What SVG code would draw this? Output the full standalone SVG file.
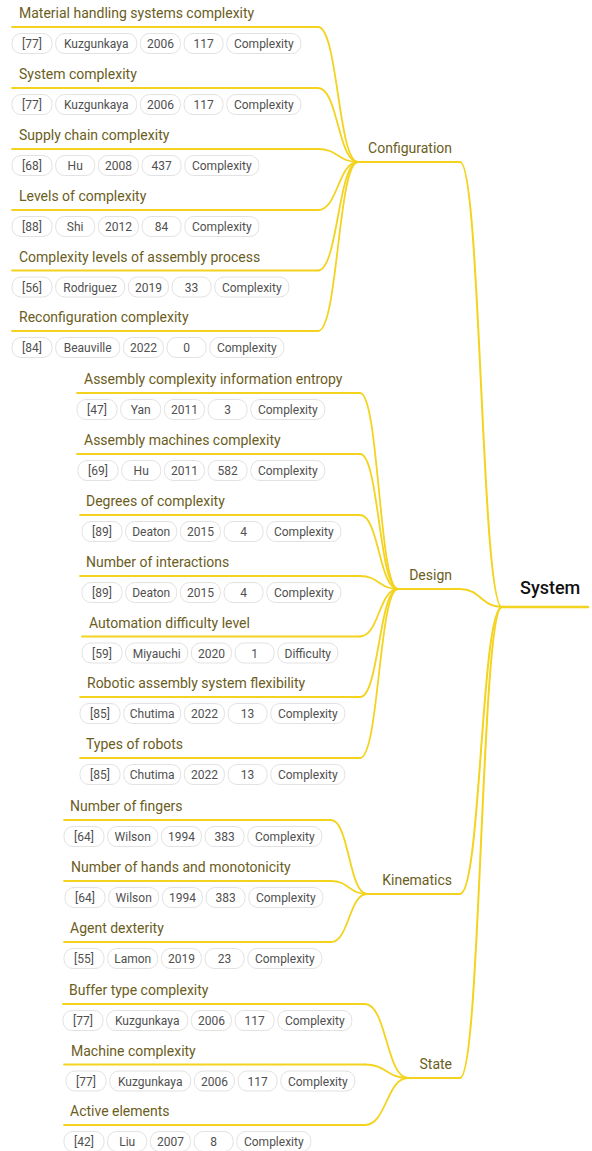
<svg xmlns="http://www.w3.org/2000/svg" width="592" height="1151" viewBox="0 0 592 1151">
  <style>
    .bg { fill: #ffffff; }
    .link { fill: none; stroke: #f4d31f; stroke-width: 1.8; stroke-linecap: round; }
    .link.l1 { stroke-width: 2; }
    .uline { fill: none; stroke: #f4d31f; stroke-width: 1.8; stroke-linecap: round; }
    .uline.l1 { stroke-width: 2; }
    .uline.root { stroke-width: 2.5; }
    .title { font-family: Roboto, "Liberation Sans", sans-serif; font-size: 14px; fill: #6b5d1c; }
    .group { text-anchor: end; }
    .rootlabel { font-family: Roboto, "Liberation Sans", sans-serif; font-size: 18px; font-weight: 500; fill: #111111; }
    .tag rect { fill: #ffffff; stroke: #e2e2e2; stroke-width: 1; }
    .tag text { font-family: Roboto, "Liberation Sans", sans-serif; font-size: 12px; fill: #505050; text-anchor: middle; }
  </style>
  <rect class="bg" x="0" y="0" width="592" height="1151"/>

  <!-- connectors: bezier links from each node's right end to its parent junction -->
  <g id="connectors">
    <path class="link l1" d="M460 162 C481 162 481 607 502 607"/>
    <path class="link l1" d="M460 589 C481 589 481 607 502 607"/>
    <path class="link l1" d="M460 894 C481 894 481 607 502 607"/>
    <path class="link l1" d="M460 1078 C481 1078 481 607 502 607"/>

    <path class="link" d="M318 27 C338 27 338 162 358 162"/>
    <path class="link" d="M318 88 C338 88 338 162 358 162"/>
    <path class="link" d="M318 149 C338 149 338 162 358 162"/>
    <path class="link" d="M318 210 C338 210 338 162 358 162"/>
    <path class="link" d="M318 270.5 C338 270.5 338 162 358 162"/>
    <path class="link" d="M318 331 C338 331 338 162 358 162"/>

    <path class="link" d="M360 393 C379 393 379 589 398 589"/>
    <path class="link" d="M360 454 C379 454 379 589 398 589"/>
    <path class="link" d="M360 515 C379 515 379 589 398 589"/>
    <path class="link" d="M360 576 C379 576 379 589 398 589"/>
    <path class="link" d="M360 636.5 C379 636.5 379 589 398 589"/>
    <path class="link" d="M360 697 C379 697 379 589 398 589"/>
    <path class="link" d="M360 758 C379 758 379 589 398 589"/>

    <path class="link" d="M331 820 C349 820 349 894 367 894"/>
    <path class="link" d="M331 881 C349 881 349 894 367 894"/>
    <path class="link" d="M331 942 C349 942 349 894 367 894"/>

    <path class="link" d="M365 1004 C386.5 1004 386.5 1078 408 1078"/>
    <path class="link" d="M365 1064.5 C386.5 1064.5 386.5 1078 408 1078"/>
    <path class="link" d="M365 1125 C386.5 1125 386.5 1078 408 1078"/>
  </g>

  <!-- root -->
  <g id="node-system">
    <path class="uline root" d="M502 607 H588"/>
    <text class="rootlabel" x="520" y="594">System</text>
  </g>

  <!-- first level -->
  <g id="node-configuration">
    <path class="uline l1" d="M358 162 H460"/>
    <text class="title group" x="452" y="153">Configuration</text>
  </g>
  <g id="node-design">
    <path class="uline l1" d="M398 589 H460"/>
    <text class="title group" x="452" y="580">Design</text>
  </g>
  <g id="node-kinematics">
    <path class="uline l1" d="M367 894 H460"/>
    <text class="title group" x="452" y="885">Kinematics</text>
  </g>
  <g id="node-state">
    <path class="uline l1" d="M408 1078 H460"/>
    <text class="title group" x="452" y="1069">State</text>
  </g>

  <!-- Configuration leaves -->
  <g id="node-c1">
    <path class="uline" d="M12 27 H318"/>
    <text class="title" x="19" y="18">Material handling systems complexity</text>
    <g class="tag"><rect x="12" y="33.5" width="40" height="20" rx="9"/><text x="32" y="48">[77]</text></g>
    <g class="tag"><rect x="55.7" y="33.5" width="81" height="20" rx="9"/><text x="96.2" y="48">Kuzgunkaya</text></g>
    <g class="tag"><rect x="140.4" y="33.5" width="40" height="20" rx="9"/><text x="160.4" y="48">2006</text></g>
    <g class="tag"><rect x="184.1" y="33.5" width="39" height="20" rx="9"/><text x="203.6" y="48">117</text></g>
    <g class="tag"><rect x="226.8" y="33.5" width="74" height="20" rx="9"/><text x="263.8" y="48">Complexity</text></g>
  </g>
  <g id="node-c2">
    <path class="uline" d="M12 88 H318"/>
    <text class="title" x="19" y="79">System complexity</text>
    <g class="tag"><rect x="12" y="94.5" width="40" height="20" rx="9"/><text x="32" y="109">[77]</text></g>
    <g class="tag"><rect x="55.7" y="94.5" width="81" height="20" rx="9"/><text x="96.2" y="109">Kuzgunkaya</text></g>
    <g class="tag"><rect x="140.4" y="94.5" width="40" height="20" rx="9"/><text x="160.4" y="109">2006</text></g>
    <g class="tag"><rect x="184.1" y="94.5" width="39" height="20" rx="9"/><text x="203.6" y="109">117</text></g>
    <g class="tag"><rect x="226.8" y="94.5" width="74" height="20" rx="9"/><text x="263.8" y="109">Complexity</text></g>
  </g>
  <g id="node-c3">
    <path class="uline" d="M12 149 H318"/>
    <text class="title" x="19" y="140">Supply chain complexity</text>
    <g class="tag"><rect x="12" y="155.5" width="40" height="20" rx="9"/><text x="32" y="170">[68]</text></g>
    <g class="tag"><rect x="55.7" y="155.5" width="39" height="20" rx="9"/><text x="75.2" y="170">Hu</text></g>
    <g class="tag"><rect x="98.4" y="155.5" width="40" height="20" rx="9"/><text x="118.4" y="170">2008</text></g>
    <g class="tag"><rect x="142.1" y="155.5" width="39" height="20" rx="9"/><text x="161.6" y="170">437</text></g>
    <g class="tag"><rect x="184.8" y="155.5" width="74" height="20" rx="9"/><text x="221.8" y="170">Complexity</text></g>
  </g>
  <g id="node-c4">
    <path class="uline" d="M12 210 H318"/>
    <text class="title" x="19" y="201">Levels of complexity</text>
    <g class="tag"><rect x="12" y="216.5" width="40" height="20" rx="9"/><text x="32" y="231">[88]</text></g>
    <g class="tag"><rect x="55.7" y="216.5" width="39" height="20" rx="9"/><text x="75.2" y="231">Shi</text></g>
    <g class="tag"><rect x="98.4" y="216.5" width="40" height="20" rx="9"/><text x="118.4" y="231">2012</text></g>
    <g class="tag"><rect x="142.1" y="216.5" width="39" height="20" rx="9"/><text x="161.6" y="231">84</text></g>
    <g class="tag"><rect x="184.8" y="216.5" width="74" height="20" rx="9"/><text x="221.8" y="231">Complexity</text></g>
  </g>
  <g id="node-c5">
    <path class="uline" d="M12 270.5 H318"/>
    <text class="title" x="19" y="261.5">Complexity levels of assembly process</text>
    <g class="tag"><rect x="12" y="277" width="40" height="20" rx="9"/><text x="32" y="291.5">[56]</text></g>
    <g class="tag"><rect x="55.7" y="277" width="69" height="20" rx="9"/><text x="90.2" y="291.5">Rodriguez</text></g>
    <g class="tag"><rect x="128.4" y="277" width="40" height="20" rx="9"/><text x="148.4" y="291.5">2019</text></g>
    <g class="tag"><rect x="172.1" y="277" width="39" height="20" rx="9"/><text x="191.6" y="291.5">33</text></g>
    <g class="tag"><rect x="214.8" y="277" width="74" height="20" rx="9"/><text x="251.8" y="291.5">Complexity</text></g>
  </g>
  <g id="node-c6">
    <path class="uline" d="M12 331 H318"/>
    <text class="title" x="19" y="322">Reconfiguration complexity</text>
    <g class="tag"><rect x="12" y="337.5" width="40" height="20" rx="9"/><text x="32" y="352">[84]</text></g>
    <g class="tag"><rect x="55.7" y="337.5" width="64" height="20" rx="9"/><text x="87.7" y="352">Beauville</text></g>
    <g class="tag"><rect x="123.4" y="337.5" width="40" height="20" rx="9"/><text x="143.4" y="352">2022</text></g>
    <g class="tag"><rect x="167.1" y="337.5" width="39" height="20" rx="9"/><text x="186.6" y="352">0</text></g>
    <g class="tag"><rect x="209.8" y="337.5" width="74" height="20" rx="9"/><text x="246.8" y="352">Complexity</text></g>
  </g>

  <!-- Design leaves -->
  <g id="node-d1">
    <path class="uline" d="M77 393 H360"/>
    <text class="title" x="84" y="384">Assembly complexity information entropy</text>
    <g class="tag"><rect x="77" y="399.5" width="40" height="20" rx="9"/><text x="97" y="414">[47]</text></g>
    <g class="tag"><rect x="120.7" y="399.5" width="40" height="20" rx="9"/><text x="140.7" y="414">Yan</text></g>
    <g class="tag"><rect x="164.4" y="399.5" width="40" height="20" rx="9"/><text x="184.4" y="414">2011</text></g>
    <g class="tag"><rect x="208.1" y="399.5" width="39" height="20" rx="9"/><text x="227.6" y="414">3</text></g>
    <g class="tag"><rect x="250.8" y="399.5" width="74" height="20" rx="9"/><text x="287.8" y="414">Complexity</text></g>
  </g>
  <g id="node-d2">
    <path class="uline" d="M77 454 H360"/>
    <text class="title" x="84" y="445">Assembly machines complexity</text>
    <g class="tag"><rect x="78" y="460.5" width="40" height="20" rx="9"/><text x="98" y="475">[69]</text></g>
    <g class="tag"><rect x="121.7" y="460.5" width="39" height="20" rx="9"/><text x="141.2" y="475">Hu</text></g>
    <g class="tag"><rect x="164.4" y="460.5" width="40" height="20" rx="9"/><text x="184.4" y="475">2011</text></g>
    <g class="tag"><rect x="208.1" y="460.5" width="39" height="20" rx="9"/><text x="227.6" y="475">582</text></g>
    <g class="tag"><rect x="250.8" y="460.5" width="74" height="20" rx="9"/><text x="287.8" y="475">Complexity</text></g>
  </g>
  <g id="node-d3">
    <path class="uline" d="M80 515 H360"/>
    <text class="title" x="86" y="506">Degrees of complexity</text>
    <g class="tag"><rect x="82" y="521.5" width="40" height="20" rx="9"/><text x="102" y="536">[89]</text></g>
    <g class="tag"><rect x="125.7" y="521.5" width="51" height="20" rx="9"/><text x="151.2" y="536">Deaton</text></g>
    <g class="tag"><rect x="180.4" y="521.5" width="40" height="20" rx="9"/><text x="200.4" y="536">2015</text></g>
    <g class="tag"><rect x="224.1" y="521.5" width="39" height="20" rx="9"/><text x="243.6" y="536">4</text></g>
    <g class="tag"><rect x="266.8" y="521.5" width="74" height="20" rx="9"/><text x="303.8" y="536">Complexity</text></g>
  </g>
  <g id="node-d4">
    <path class="uline" d="M80 576 H360"/>
    <text class="title" x="86" y="567">Number of interactions</text>
    <g class="tag"><rect x="82" y="582.5" width="40" height="20" rx="9"/><text x="102" y="597">[89]</text></g>
    <g class="tag"><rect x="125.7" y="582.5" width="51" height="20" rx="9"/><text x="151.2" y="597">Deaton</text></g>
    <g class="tag"><rect x="180.4" y="582.5" width="40" height="20" rx="9"/><text x="200.4" y="597">2015</text></g>
    <g class="tag"><rect x="224.1" y="582.5" width="39" height="20" rx="9"/><text x="243.6" y="597">4</text></g>
    <g class="tag"><rect x="266.8" y="582.5" width="74" height="20" rx="9"/><text x="303.8" y="597">Complexity</text></g>
  </g>
  <g id="node-d5">
    <path class="uline" d="M82 636.5 H360"/>
    <text class="title" x="89" y="627.5">Automation difficulty level</text>
    <g class="tag"><rect x="82" y="643" width="40" height="20" rx="9"/><text x="102" y="657.5">[59]</text></g>
    <g class="tag"><rect x="125.7" y="643" width="62" height="20" rx="9"/><text x="156.7" y="657.5">Miyauchi</text></g>
    <g class="tag"><rect x="191.4" y="643" width="40" height="20" rx="9"/><text x="211.4" y="657.5">2020</text></g>
    <g class="tag"><rect x="235.1" y="643" width="39" height="20" rx="9"/><text x="254.6" y="657.5">1</text></g>
    <g class="tag"><rect x="277.8" y="643" width="60" height="20" rx="9"/><text x="307.8" y="657.5">Difficulty</text></g>
  </g>
  <g id="node-d6">
    <path class="uline" d="M80 697 H360"/>
    <text class="title" x="87" y="688">Robotic assembly system flexibility</text>
    <g class="tag"><rect x="80" y="703.5" width="40" height="20" rx="9"/><text x="100" y="718">[85]</text></g>
    <g class="tag"><rect x="123.7" y="703.5" width="57" height="20" rx="9"/><text x="152.2" y="718">Chutima</text></g>
    <g class="tag"><rect x="184.4" y="703.5" width="40" height="20" rx="9"/><text x="204.4" y="718">2022</text></g>
    <g class="tag"><rect x="228.1" y="703.5" width="39" height="20" rx="9"/><text x="247.6" y="718">13</text></g>
    <g class="tag"><rect x="270.8" y="703.5" width="74" height="20" rx="9"/><text x="307.8" y="718">Complexity</text></g>
  </g>
  <g id="node-d7">
    <path class="uline" d="M80 758 H360"/>
    <text class="title" x="86" y="749">Types of robots</text>
    <g class="tag"><rect x="80" y="764.5" width="40" height="20" rx="9"/><text x="100" y="779">[85]</text></g>
    <g class="tag"><rect x="123.7" y="764.5" width="57" height="20" rx="9"/><text x="152.2" y="779">Chutima</text></g>
    <g class="tag"><rect x="184.4" y="764.5" width="40" height="20" rx="9"/><text x="204.4" y="779">2022</text></g>
    <g class="tag"><rect x="228.1" y="764.5" width="39" height="20" rx="9"/><text x="247.6" y="779">13</text></g>
    <g class="tag"><rect x="270.8" y="764.5" width="74" height="20" rx="9"/><text x="307.8" y="779">Complexity</text></g>
  </g>

  <!-- Kinematics leaves -->
  <g id="node-k1">
    <path class="uline" d="M64 820 H331"/>
    <text class="title" x="70" y="811">Number of fingers</text>
    <g class="tag"><rect x="64" y="826.5" width="40" height="20" rx="9"/><text x="84" y="841">[64]</text></g>
    <g class="tag"><rect x="107.7" y="826.5" width="50" height="20" rx="9"/><text x="132.7" y="841">Wilson</text></g>
    <g class="tag"><rect x="161.4" y="826.5" width="40" height="20" rx="9"/><text x="181.4" y="841">1994</text></g>
    <g class="tag"><rect x="205.1" y="826.5" width="39" height="20" rx="9"/><text x="224.6" y="841">383</text></g>
    <g class="tag"><rect x="247.8" y="826.5" width="74" height="20" rx="9"/><text x="284.8" y="841">Complexity</text></g>
  </g>
  <g id="node-k2">
    <path class="uline" d="M64 881 H331"/>
    <text class="title" x="71" y="872">Number of hands and monotonicity</text>
    <g class="tag"><rect x="65" y="887.5" width="40" height="20" rx="9"/><text x="85" y="902">[64]</text></g>
    <g class="tag"><rect x="108.7" y="887.5" width="50" height="20" rx="9"/><text x="133.7" y="902">Wilson</text></g>
    <g class="tag"><rect x="162.4" y="887.5" width="40" height="20" rx="9"/><text x="182.4" y="902">1994</text></g>
    <g class="tag"><rect x="206.1" y="887.5" width="39" height="20" rx="9"/><text x="225.6" y="902">383</text></g>
    <g class="tag"><rect x="248.8" y="887.5" width="74" height="20" rx="9"/><text x="285.8" y="902">Complexity</text></g>
  </g>
  <g id="node-k3">
    <path class="uline" d="M64 942 H331"/>
    <text class="title" x="70" y="933">Agent dexterity</text>
    <g class="tag"><rect x="64" y="948.5" width="40" height="20" rx="9"/><text x="84" y="963">[55]</text></g>
    <g class="tag"><rect x="107.7" y="948.5" width="50" height="20" rx="9"/><text x="132.7" y="963">Lamon</text></g>
    <g class="tag"><rect x="161.4" y="948.5" width="40" height="20" rx="9"/><text x="181.4" y="963">2019</text></g>
    <g class="tag"><rect x="205.1" y="948.5" width="39" height="20" rx="9"/><text x="224.6" y="963">23</text></g>
    <g class="tag"><rect x="247.8" y="948.5" width="74" height="20" rx="9"/><text x="284.8" y="963">Complexity</text></g>
  </g>

  <!-- State leaves -->
  <g id="node-s1">
    <path class="uline" d="M63 1004 H365"/>
    <text class="title" x="69" y="995">Buffer type complexity</text>
    <g class="tag"><rect x="63" y="1010.5" width="40" height="20" rx="9"/><text x="83" y="1025">[77]</text></g>
    <g class="tag"><rect x="106.7" y="1010.5" width="81" height="20" rx="9"/><text x="147.2" y="1025">Kuzgunkaya</text></g>
    <g class="tag"><rect x="191.4" y="1010.5" width="40" height="20" rx="9"/><text x="211.4" y="1025">2006</text></g>
    <g class="tag"><rect x="235.1" y="1010.5" width="39" height="20" rx="9"/><text x="254.6" y="1025">117</text></g>
    <g class="tag"><rect x="277.8" y="1010.5" width="74" height="20" rx="9"/><text x="314.8" y="1025">Complexity</text></g>
  </g>
  <g id="node-s2">
    <path class="uline" d="M64 1064.5 H365"/>
    <text class="title" x="71" y="1055.5">Machine complexity</text>
    <g class="tag"><rect x="66" y="1071" width="40" height="20" rx="9"/><text x="86" y="1085.5">[77]</text></g>
    <g class="tag"><rect x="109.7" y="1071" width="81" height="20" rx="9"/><text x="150.2" y="1085.5">Kuzgunkaya</text></g>
    <g class="tag"><rect x="194.4" y="1071" width="40" height="20" rx="9"/><text x="214.4" y="1085.5">2006</text></g>
    <g class="tag"><rect x="238.1" y="1071" width="39" height="20" rx="9"/><text x="257.6" y="1085.5">117</text></g>
    <g class="tag"><rect x="280.8" y="1071" width="74" height="20" rx="9"/><text x="317.8" y="1085.5">Complexity</text></g>
  </g>
  <g id="node-s3">
    <path class="uline" d="M64 1125 H365"/>
    <text class="title" x="70" y="1116">Active elements</text>
    <g class="tag"><rect x="64" y="1131.5" width="40" height="20" rx="9"/><text x="84" y="1146">[42]</text></g>
    <g class="tag"><rect x="107.7" y="1131.5" width="39" height="20" rx="9"/><text x="127.2" y="1146">Liu</text></g>
    <g class="tag"><rect x="150.4" y="1131.5" width="40" height="20" rx="9"/><text x="170.4" y="1146">2007</text></g>
    <g class="tag"><rect x="194.1" y="1131.5" width="39" height="20" rx="9"/><text x="213.6" y="1146">8</text></g>
    <g class="tag"><rect x="236.8" y="1131.5" width="74" height="20" rx="9"/><text x="273.8" y="1146">Complexity</text></g>
  </g>
</svg>
